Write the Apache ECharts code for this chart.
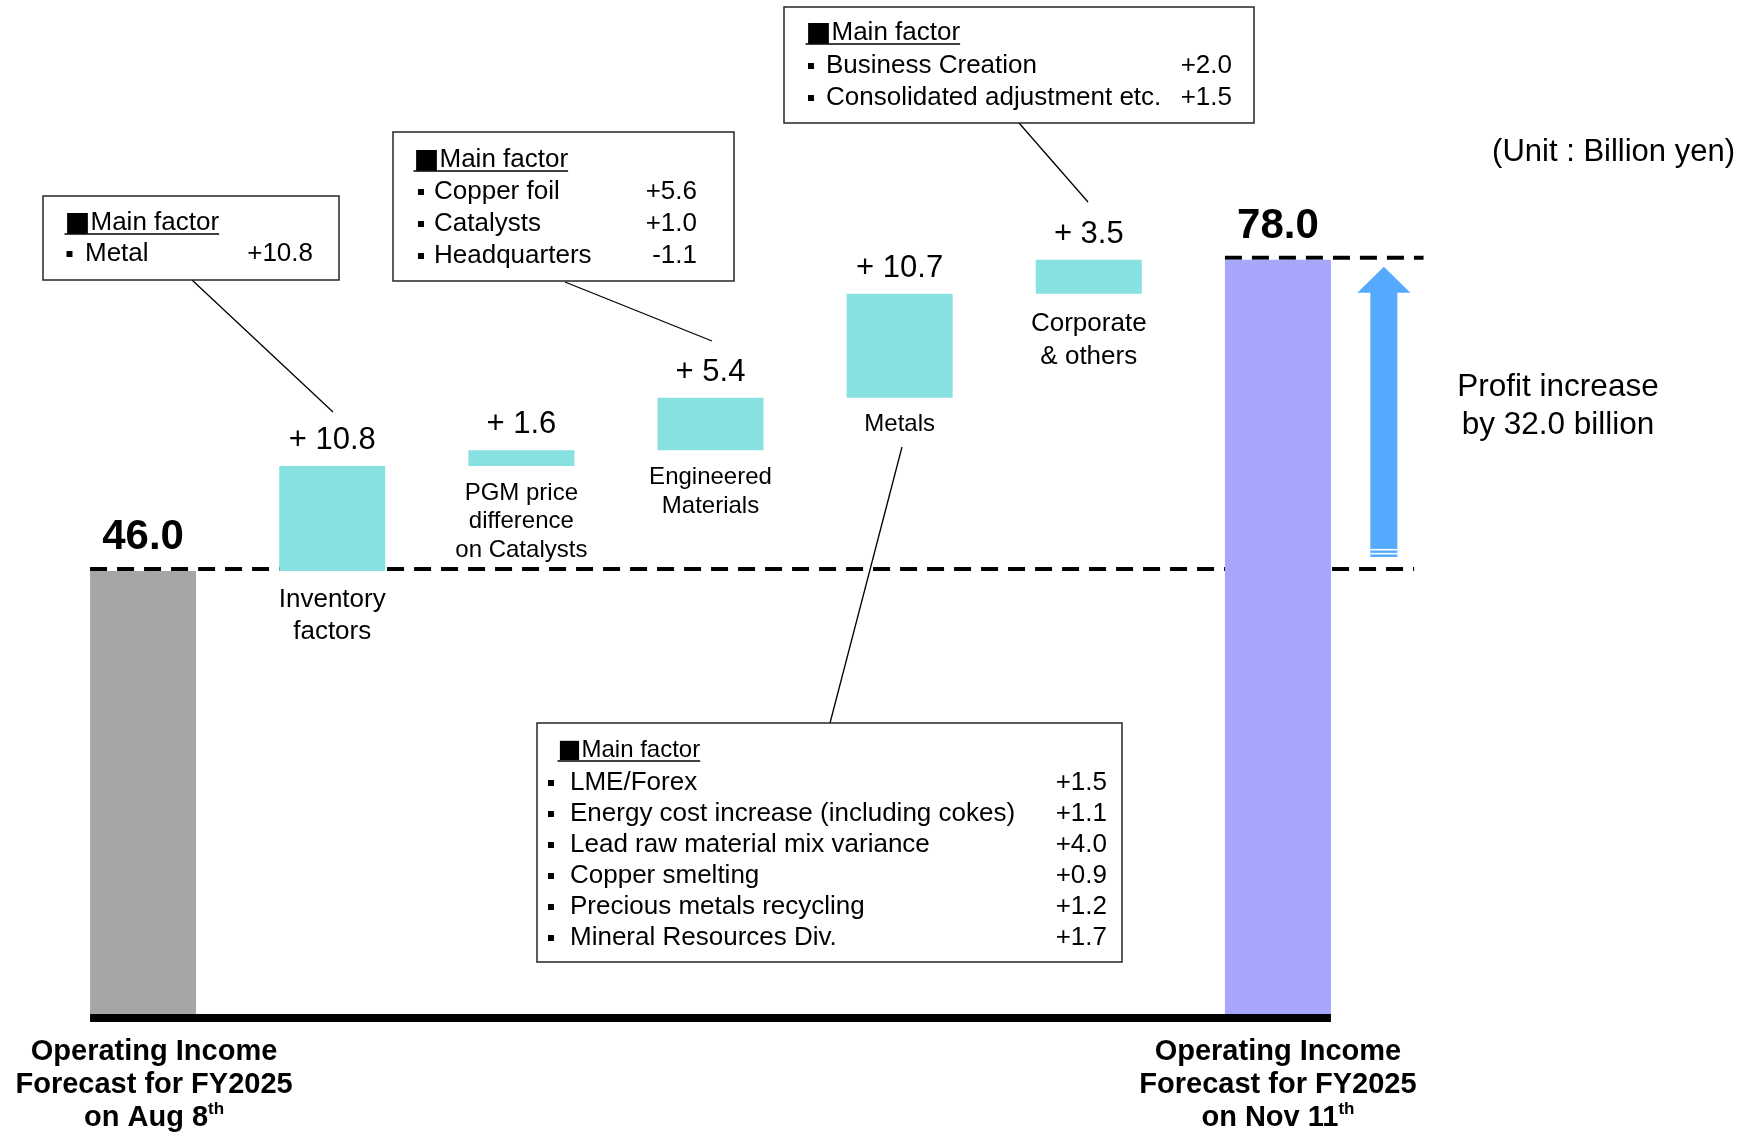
<!DOCTYPE html>
<html>
<head>
<meta charset="utf-8">
<script src="https://cdn.jsdelivr.net/npm/echarts@6/dist/echarts.min.js"></script>
<style>
  html, body { margin: 0; padding: 0; background: #fff; }
  #chart { width: 1750px; height: 1135px; }
</style>
</head>
<body>
<div id="chart"></div>
<script>
// ---- Operating income bridge (Billion yen) ----
const startValue = 46.0;
const endValue = 78.0;
const factorNames = ['Inventory\nfactors', 'PGM price\ndifference\non Catalysts', 'Engineered\nMaterials', 'Metals', 'Corporate\n& others'];
const factorValues = [10.8, 1.6, 5.4, 10.7, 3.5];
const startName = ['Operating Income', 'Forecast for FY2025', 'on Aug 8', 'th'];
const endName = ['Operating Income', 'Forecast for FY2025', 'on Nov 11', 'th'];
const unitText = '(Unit : Billion yen)';

// main factor breakdowns
const inventoryFactors = [['Metal', '+10.8']];
const engineeredFactors = [['Copper foil', '+5.6'], ['Catalysts', '+1.0'], ['Headquarters', '-1.1']];
const corporateFactors = [['Business Creation', '+2.0'], ['Consolidated adjustment etc.', '+1.5']];
const metalsFactors = [
  ['LME/Forex', '+1.5'],
  ['Energy cost increase (including cokes)', '+1.1'],
  ['Lead raw material mix variance', '+4.0'],
  ['Copper smelting', '+0.9'],
  ['Precious metals recycling', '+1.2'],
  ['Mineral Resources Div.', '+1.7']
];

const FONT = '"Liberation Sans", Arial, Helvetica, sans-serif';
const CJK = '"Noto Sans CJK JP", "Noto Sans CJK SC", sans-serif';
const COLORS = { start: '#A6A6A6', factor: '#87E1E0', end: '#A6A6FA', arrow: '#55AAFF' };
const BAR_W = 106;

// waterfall: invisible base + visible step
const categories = [startName.slice(0, 3).join(' ')].concat(factorNames, [endName.slice(0, 3).join(' ')]);
const last = categories.length - 1;
const bases = [0];
const steps = [startValue];
let running = startValue;
factorValues.forEach(v => {
  bases.push(running);
  steps.push(v);
  running = Math.round((running + v) * 10) / 10;
});
bases.push(0);
steps.push(endValue);
const isTotal = i => i === 0 || i === last;

// per-category text sizing for the names under the floating bars
const nameStyle = [
  null,
  { fontSize: 26, lineHeight: 32 },
  { fontSize: 24, lineHeight: 28.5 },
  { fontSize: 24, lineHeight: 29 },
  { fontSize: 24, lineHeight: 28 },
  { fontSize: 26, lineHeight: 33 },
  null
];

const measureCtx = document.createElement('canvas').getContext('2d');
function textWidth(str, size, family) {
  measureCtx.font = size + 'px ' + family;
  return measureCtx.measureText(str).width;
}

// callout boxes
const boxes = [
  { x: 43, y: 196, w: 296, h: 84, headX: 64.5, headY: 223, headSize: 26, rows: inventoryFactors, rowY: 254, rowGap: 31, dotX: 69.5, textX: 85, valX: 313, size: 26 },
  { x: 393, y: 132, w: 341, h: 149, headX: 413.5, headY: 160, headSize: 26, rows: engineeredFactors, rowY: 192, rowGap: 32, dotX: 421, textX: 434, valX: 697, size: 26 },
  { x: 784, y: 7, w: 470, h: 116, headX: 805.5, headY: 33, headSize: 26, rows: corporateFactors, rowY: 66, rowGap: 32, dotX: 811, textX: 826, valX: 1232, size: 26 },
  { x: 537, y: 723, w: 585, h: 239, headX: 557.5, headY: 750, headSize: 24, rows: metalsFactors, rowY: 783, rowGap: 31, dotX: 551, textX: 570, valX: 1107, size: 26 }
];
const connectors = [
  [192, 280, 333, 412],
  [565, 282, 712, 341],
  [1019, 123, 1088, 202],
  [902, 447, 830, 723]
];

const graphics = [];
boxes.forEach(b => {
  graphics.push({ type: 'rect', z: 50, shape: { x: b.x, y: b.y, width: b.w, height: b.h }, style: { fill: '#fff', stroke: '#262626', lineWidth: 1.5 } });
  graphics.push({
    type: 'text', z: 51, x: b.headX, y: b.headY,
    style: {
      text: '{sq|■}{h|Main factor}', verticalAlign: 'middle', align: 'left',
      rich: {
        sq: { fontFamily: CJK, fontSize: b.headSize, fill: '#000' },
        h: { fontFamily: FONT, fontSize: b.headSize, fill: '#000' }
      }
    }
  });
  const ul = textWidth('■', b.headSize, CJK) + textWidth('Main factor', b.headSize, FONT);
  graphics.push({ type: 'line', z: 51, shape: { x1: b.headX, y1: b.headY + 11, x2: b.headX + ul, y2: b.headY + 11 }, style: { stroke: '#000', lineWidth: 1.5 } });
  b.rows.forEach((r, i) => {
    const cy = b.rowY + i * b.rowGap;
    graphics.push({ type: 'text', z: 51, x: b.dotX, y: cy, style: { text: '▪', font: '22px ' + CJK, fill: '#000', align: 'center', verticalAlign: 'middle' } });
    graphics.push({ type: 'text', z: 51, x: b.textX, y: cy, style: { text: r[0], font: b.size + 'px ' + FONT, fill: '#000', align: 'left', verticalAlign: 'middle' } });
    graphics.push({ type: 'text', z: 51, x: b.valX, y: cy, style: { text: r[1], font: b.size + 'px ' + FONT, fill: '#000', align: 'right', verticalAlign: 'middle' } });
  });
});
connectors.forEach(c => {
  graphics.push({ type: 'line', z: 49, shape: { x1: c[0], y1: c[1], x2: c[2], y2: c[3] }, style: { stroke: '#000', lineWidth: 1.3 } });
});
graphics.push({ type: 'text', z: 51, x: 1735, y: 152, style: { text: unitText, font: '31px ' + FONT, fill: '#000', align: 'right', verticalAlign: 'middle' } });
graphics.push({
  type: 'text', z: 51, x: 1558, y: 406,
  style: { text: 'Profit increase\nby ' + (endValue - startValue).toFixed(1) + ' billion', font: '31.5px ' + FONT, lineHeight: 38, fill: '#000', align: 'center', verticalAlign: 'middle' }
});

function totalLabel(name, first) {
  const a = first ? 'bl' : 'b';
  return '{' + a + '|' + name[0] + '}\n{' + a + '|' + name[1] + '}\n{' + a + '|' + name[2] + '}{s|' + name[3] + '}';
}

const chart = echarts.init(document.getElementById('chart'), null, { renderer: 'canvas' });
chart.setOption({
  animation: false,
  backgroundColor: '#fff',
  grid: { left: 48.5, right: 377.5, top: 46, bottom: 117, containLabel: false, outerBoundsMode: 'none' },
  xAxis: {
    type: 'category',
    data: categories,
    boundaryGap: true,
    axisLine: { show: false },
    axisTick: { show: false },
    splitLine: { show: false },
    axisLabel: {
      interval: 0,
      margin: 17,
      formatter: (v, i) => i === 0 ? totalLabel(startName, true) : (i === last ? totalLabel(endName, false) : ''),
      rich: {
        b: { fontFamily: FONT, fontWeight: 'bold', fontSize: 29, lineHeight: 33, color: '#000' },
        bl: { fontFamily: FONT, fontWeight: 'bold', fontSize: 29, lineHeight: 33, color: '#000', padding: [0, 0, 0, 22] },
        s: { fontFamily: FONT, fontWeight: 'bold', fontSize: 17, lineHeight: 22, color: '#000', verticalAlign: 'top' }
      }
    }
  },
  yAxis: { type: 'value', min: 0, max: 100, show: false, splitLine: { show: false } },
  graphic: { elements: graphics },
  series: [
    {
      name: 'level lines',
      type: 'custom',
      z: 1,
      silent: true,
      data: [[0, startValue], [last, endValue]],
      renderItem(params, api) {
        const p = api.coord([api.value(0), api.value(1)]);
        const band = api.size([1, 0])[0];
        const lastX = api.coord([last, api.value(1)])[0];
        const ext = params.dataIndex === 0 ? 0.72 : 0.77;
        return {
          type: 'line',
          shape: { x1: p[0] - BAR_W / 2, y1: p[1] - 2, x2: lastX + band * ext, y2: p[1] - 2 },
          style: { stroke: '#000', lineWidth: 4, lineDash: [17, 10] }
        };
      }
    },
    {
      name: 'base',
      type: 'bar',
      stack: 'bridge',
      barWidth: BAR_W,
      silent: true,
      z: 2,
      itemStyle: { color: 'transparent' },
      label: {
        show: true,
        position: 'insideTop',
        distance: 13,
        color: '#000',
        fontFamily: FONT,
        fontSize: 24,
        lineHeight: 29,
        formatter: p => factorNames[p.dataIndex - 1] || ''
      },
      data: bases.map((v, i) => ({
        value: v,
        label: isTotal(i) ? { show: false } : Object.assign({ show: true }, nameStyle[i])
      }))
    },
    {
      name: 'change',
      type: 'bar',
      stack: 'bridge',
      barWidth: BAR_W,
      z: 2,
      label: {
        show: true,
        position: 'top',
        distance: 10,
        color: '#000',
        fontFamily: FONT,
        fontSize: 31,
        formatter: p => isTotal(p.dataIndex) ? p.value.toFixed(1) : '+ ' + p.value.toFixed(1)
      },
      data: steps.map((v, i) => ({
        value: v,
        itemStyle: { color: i === 0 ? COLORS.start : (i === last ? COLORS.end : COLORS.factor) },
        label: isTotal(i) ? { fontSize: 42, fontWeight: 'bold', distance: 12 } : {}
      }))
    },
    {
      name: 'baseline',
      type: 'custom',
      z: 3,
      silent: true,
      data: [[0, 0]],
      renderItem(params, api) {
        const p0 = api.coord([0, 0]);
        const p1 = api.coord([last, 0]);
        return {
          type: 'line',
          shape: { x1: p0[0] - BAR_W / 2, y1: p0[1], x2: p1[0] + BAR_W / 2, y2: p1[1] },
          style: { stroke: '#000', lineWidth: 8 }
        };
      }
    },
    {
      name: 'increase arrow',
      type: 'custom',
      z: 3,
      silent: true,
      data: [[last, startValue, endValue]],
      renderItem(params, api) {
        const band = api.size([1, 0])[0];
        const x = api.coord([api.value(0), 0])[0] + band * 0.56;
        const yTop = api.coord([api.value(0), api.value(2)])[1] + 7;
        const yBot = api.coord([api.value(0), api.value(1)])[1] - 14;
        const sh = 13.5, hh = 26.5, hl = 26;
        return {
          type: 'group',
          children: [
            {
              type: 'polygon',
              shape: { points: [[x, yTop], [x + hh, yTop + hl], [x + sh, yTop + hl], [x + sh, yBot], [x - sh, yBot], [x - sh, yTop + hl], [x - hh, yTop + hl]] },
              style: { fill: COLORS.arrow }
            },
            { type: 'rect', shape: { x: x - sh, y: yBot - 8, width: sh * 2, height: 1.6 }, style: { fill: '#fff' } },
            { type: 'rect', shape: { x: x - sh, y: yBot - 4, width: sh * 2, height: 1.6 }, style: { fill: '#fff' } }
          ]
        };
      }
    }
  ]
});
</script>
</body>
</html>
